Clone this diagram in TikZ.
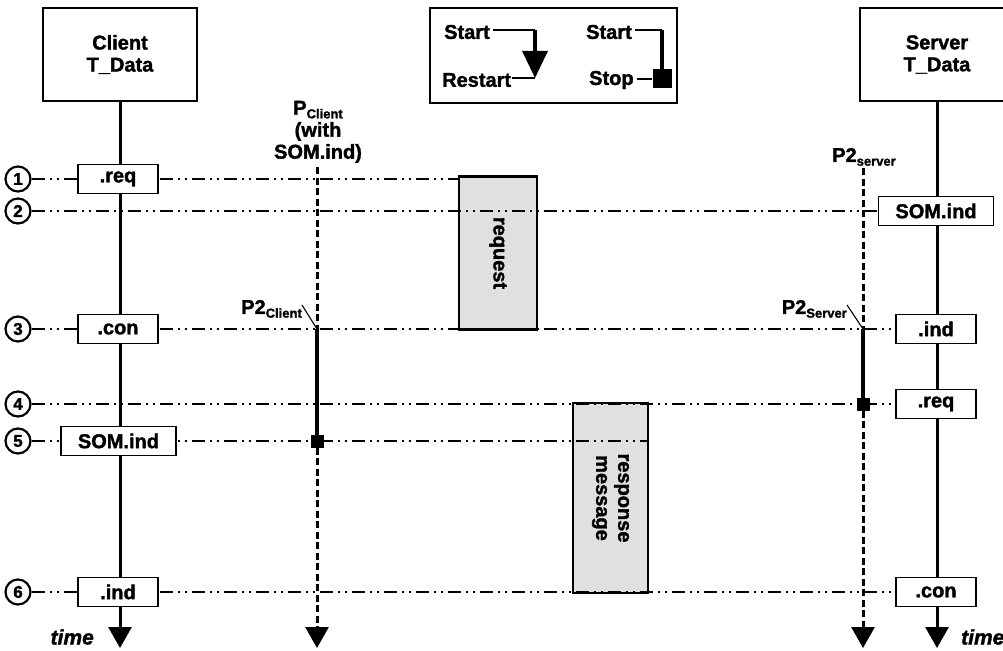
\documentclass[tikz,border=0pt]{standalone}
\usepackage{fontspec}
\setmainfont[BoldFeatures={FakeBold=1.6}, BoldItalicFeatures={FakeBold=1.6}]{Liberation Sans}
\usetikzlibrary{arrows.meta}
\newcommand{\sbs}[1]{\raisebox{-0.35ex}{\fontsize{13}{13}\selectfont #1}}
\begin{document}
\begin{tikzpicture}[x=1pt,y=-1pt,
  every node/.style={font=\bfseries\fontsize{20}{22}\selectfont, inner sep=0pt},
  bigbox/.style={draw, line width=1.5pt, fill=white, minimum width=154pt, minimum height=93pt, align=center},
  msgbox/.style={draw, line width=1.6pt, fill=white, minimum width=80pt, minimum height=29pt},
  widebox/.style={draw, line width=1.6pt, fill=white, minimum width=115pt, minimum height=29pt},
  circ/.style={draw, circle, line width=2.2pt, minimum size=25pt, font=\bfseries\fontsize{17}{17}\selectfont},
  dd/.style={line width=1.5pt, dash pattern=on 13pt off 5pt on 2pt off 5pt on 2pt off 5pt},
  life/.style={line width=3pt},
  tip/.style={-{Triangle[width=23pt,length=21pt]}},
  plife/.style={line width=3pt, dash pattern=on 7pt off 3.5pt},
  run/.style={line width=3.5pt},
  sq/.style={fill=black, minimum size=13pt},
  graybox/.style={draw, line width=2.2pt, fill=black!12},
  legtext/.style={font=\bfseries\fontsize{20}{22}\selectfont, anchor=west},
  thinl/.style={line width=1.3pt},
  timetext/.style={font=\bfseries\itshape\fontsize{21}{23}\selectfont}
]
\useasboundingbox (0,0) rectangle (1003,650);
\clip (0,0) rectangle (1003,650);

% legend
\node[draw, line width=1.3pt, minimum width=247pt, minimum height=95pt] (leg) at (553.5,55.5) {};
\node[legtext] (ls1) at (444,32) {Start};
\node[legtext] (lr) at (442,80) {Restart};
\node[legtext] (ls2) at (586,32) {Start};
\node[legtext] (lstop) at (589,80) {Stop};
\coordinate (la1) at (535,30);
\coordinate (la2) at (535,78);
\coordinate (lb1) at (662,30);
\node[sq, minimum size=19pt] (lsq) at (662,79) {};
\draw[thinl] (ls1.east |- la1) ++(3pt,0) -- (la1);
\draw[line width=3.5pt, -{Triangle[width=25pt,length=27pt]}] (la1) -- (la2);
\draw[thinl] (lr.east |- la2) ++(1pt,0) -- (la2);
\draw[thinl] (ls2.east |- lb1) ++(3pt,0) -- (lb1);
\draw[line width=3.5pt] (lb1) -- (lsq.center);
\draw[thinl] (lstop.east |- lsq.west) ++(3pt,0) -- (lsq.west);

% gray message boxes
\node[graybox, minimum width=78pt, minimum height=153pt] (rqbox) at (498,253) {};
\node[rotate=-90] (rqt) at (498,253) {request};
\node[graybox, minimum width=75pt, minimum height=190pt] (rsbox) at (610.5,498) {};
\node[rotate=-90, align=center] (rst) at (610.5,498) {response\\message};

% top boxes
\node[bigbox] (cbox) at (120,54.5) {Client\\T\_Data};
\node[bigbox] (sbox) at (937,54.5) {Server\\T\_Data};

% circles
\node[circ] (c1) at (18,179) {1};
\node[circ] (c2) at (18,211) {2};
\node[circ] (c3) at (18,329) {3};
\node[circ] (c4) at (18,404) {4};
\node[circ] (c5) at (18,441) {5};
\node[circ] (c6) at (18,592) {6};

\coordinate (cend) at (120,648);
\coordinate (send) at (937,648);

% server message boxes (placed first so lines can end at them)
\node[widebox] (s2) at (936,211) {SOM.ind};
\node[msgbox] (s3) at (936,329) {.ind};
\node[msgbox] (s4) at (936,404) {.req};
\node[msgbox] (s6) at (936,592) {.con};

% time lines (dash-dot-dot)
\draw[dd] (c1.east) -- (rqbox.west |- c1.east);
\draw[dd] (c2.east) -- (s2.west);
\draw[dd] (c3.east) -- (s3.west);
\draw[dd] (c4.east) -- (s4.west);
\draw[dd] (c5.east) -- (rsbox.east |- c5.east);
\draw[dd] (c6.east) -- (s6.west);

% lifelines
\draw[life, tip] (cbox.south) -- (cend);
\draw[life, tip] (sbox.south) -- (send);

% client boxes
\node[msgbox] (k1) at (118,179) {.req};
\node[msgbox] (k3) at (118,329) {.con};
\node[widebox] (k5) at (118.5,441) {SOM.ind};
\node[msgbox] (k6) at (118,592) {.ind};
% server boxes again, above the lifeline
\node[widebox] at (936,211) {SOM.ind};
\node[msgbox] at (936,329) {.ind};
\node[msgbox] at (936,404) {.req};
\node[msgbox] at (936,592) {.con};

% P_Client timer
\node[align=center, anchor=south, font=\bfseries\fontsize{20}{22}\selectfont] (pcl) at (318,163) {P\sbs{Client}\\(with\\SOM.ind)};
\coordinate (pc0) at (317,167);
\coordinate (pc1) at (317,329);
\node[sq] (pcsq) at (317,441) {};
\coordinate (pcend) at (317,648);
\draw[plife] (pc0) -- (pc1);
\draw[run] (pc1) -- (pcsq.center);
\draw[plife, tip] (pcsq.south) -- (pcend);
\node[anchor=south east] (p2c) at (302,318) {P2\sbs{Client}};
\draw[line width=1.1pt] (302,305) -- (pc1);

% P2 server timer
\node[anchor=south] (p2s) at (864,166) {P2\sbs{server}};
\coordinate (ps0) at (863,168);
\coordinate (ps1) at (863,329);
\node[sq] (pssq) at (863,404) {};
\coordinate (psend) at (863,648);
\draw[plife] (ps0) -- (ps1);
\draw[run] (ps1) -- (pssq.center);
\draw[plife, tip] (pssq.south) -- (psend);
\node[anchor=south east] (p2sv) at (847,318) {P2\sbs{Server}};
\draw[line width=1.1pt] (847,305) -- (ps1);

% time labels
\node[timetext, anchor=east] (t1) at (94,637) {time};
\node[timetext, anchor=west] (t2) at (961,637) {time};
\end{tikzpicture}
\end{document}
